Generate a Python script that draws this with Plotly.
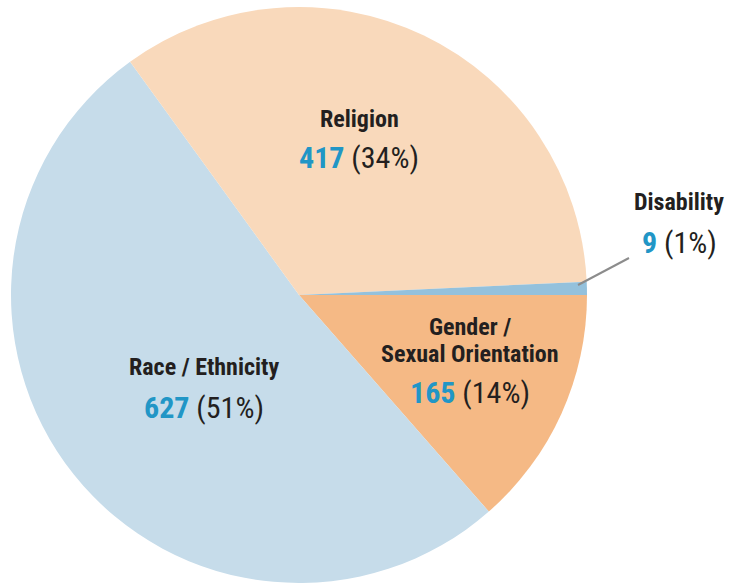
import plotly.graph_objects as go

categories = ["Gender /<br>Sexual Orientation", "Race / Ethnicity", "Religion", "Disability"]
values = [165, 627, 417, 9]
colors = ["#f5b985", "#c6dcea", "#f9d9bb", "#94c1dc"]

W, H = 729, 584
total = sum(values)
pcts = [round(v / total * 100) for v in values]

FONT = "Roboto Condensed, Arial Narrow, sans-serif"
DARK = "#231f20"
BLUE = "#2196c6"

def px(x, y):
    return x / W, 1 - y / H

cx, cy, r = 299, 295, 288
dx0, dy1 = px(cx - r, cy - r)
dx1, dy0 = px(cx + r, cy + r)

fig = go.Figure(go.Pie(
    labels=categories,
    values=values,
    marker=dict(colors=colors, line=dict(width=0)),
    sort=False,
    direction="clockwise",
    rotation=90,
    textinfo="none",
    showlegend=False,
    domain=dict(x=[dx0, dx1], y=[max(dy0, 0), min(dy1, 1)]),
))

# label layout (pixel centers): name lines and number line
label_pos = [
    ([(470, 327), (470, 354)], (470, 392)),
    ([(204, 367)], (204, 407)),
    ([(359, 119)], (359, 157)),
    ([(679, 202)], (679, 242)),
]

for cat, v, p, (name_pts, num_pt) in zip(categories, values, pcts, label_pos):
    lines = cat.split("<br>")
    for ln, (x, y) in zip(lines, name_pts):
        ax_, ay_ = px(x, y)
        fig.add_annotation(x=ax_, y=ay_, xref="paper", yref="paper", text=f"<b>{ln}</b>",
                           showarrow=False, font=dict(family=FONT, size=24, color=DARK),
                           xanchor="center", yanchor="middle", borderpad=0)
    ax_, ay_ = px(*num_pt)
    fig.add_annotation(x=ax_, y=ay_, xref="paper", yref="paper",
                       text=f"<b><span style='color:{BLUE}'>{v}</span></b> ({p}%)",
                       showarrow=False, font=dict(family=FONT, size=30, color=DARK),
                       xanchor="center", yanchor="middle", borderpad=0)

# leader line for Disability
x0, y0 = px(578, 285)
x1, y1 = px(629, 258)
fig.add_shape(type="line", xref="paper", yref="paper", x0=x0, y0=y0, x1=x1, y1=y1,
              line=dict(color="#8c8c8c", width=2))

fig.update_layout(width=W, height=H, margin=dict(l=0, r=0, t=0, b=0),
                  paper_bgcolor="white", plot_bgcolor="white")
fig.write_html("out.html", config={"displayModeBar": False},
               post_script="document.body.style.margin='0';document.body.style.overflow='hidden';")
